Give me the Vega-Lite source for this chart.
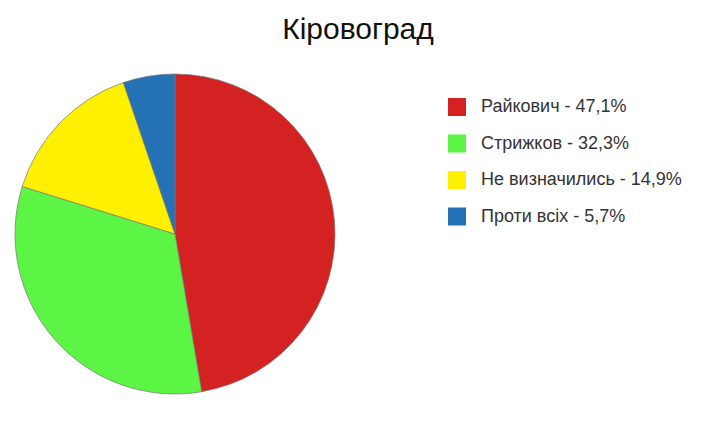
{
  "$schema": "https://vega.github.io/schema/vega-lite/v6.json",
  "autosize": "none",
  "width": 320,
  "height": 320,
  "padding": {"top": 74, "left": 15, "right": 383, "bottom": 34},
  "background": "white",
  "title": {
    "text": "Кіровоград",
    "font": "Liberation Sans",
    "fontSize": 30,
    "fontWeight": "normal",
    "color": "#111",
    "anchor": "middle",
    "baseline": "alphabetic",
    "dx": 183,
    "offset": 4
  },
  "data": {
    "values": [
      {"n": 1, "name": "Райкович - 47,1%", "share": 47.1},
      {"n": 2, "name": "Стрижков - 32,3%", "share": 32.3},
      {"n": 3, "name": "Не визначились - 14,9%", "share": 14.9},
      {"n": 4, "name": "Проти всіх - 5,7%", "share": 5.2}
    ]
  },
  "mark": {"type": "arc", "outerRadius": 160, "stroke": "#777", "strokeWidth": 0.7},
  "encoding": {
    "theta": {"field": "share", "type": "quantitative", "stack": true},
    "order": {"field": "n", "type": "quantitative"},
    "color": {
      "field": "name",
      "type": "nominal",
      "scale": {
        "domain": ["Райкович - 47,1%", "Стрижков - 32,3%", "Не визначились - 14,9%", "Проти всіх - 5,7%"],
        "range": ["#d42121", "#5df545", "#fff000", "#2571b5"]
      },
      "legend": {
        "title": null,
        "orient": "none",
        "legendX": 433,
        "legendY": 24,
        "symbolType": "square",
        "symbolSize": 324,
        "symbolStrokeWidth": 0,
        "labelFont": "Liberation Sans",
        "labelFontSize": 18,
        "labelColor": "#333",
        "labelOffset": 15,
        "rowPadding": 18.5,
        "labelLimit": 300
      }
    }
  },
  "config": {"view": {"stroke": null}}
}
